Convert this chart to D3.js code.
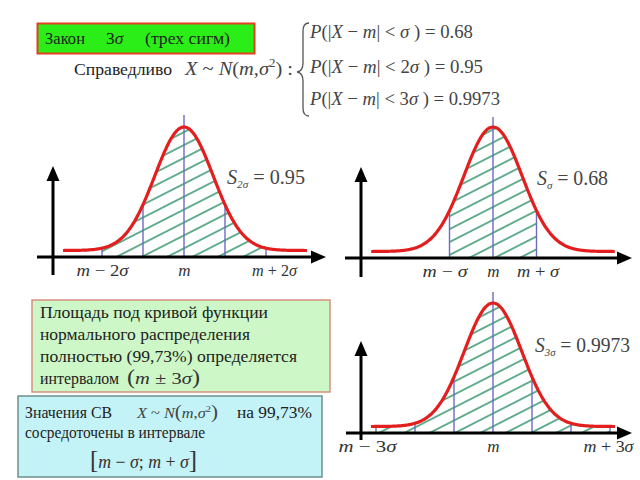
<!DOCTYPE html>
<html><head><meta charset="utf-8">
<script src="https://cdn.jsdelivr.net/npm/d3@7"></script>
<style>
body{margin:0;background:#fff}
svg, svg text{font-family:"Liberation Serif","DejaVu Serif","Noto Serif",serif}
</style></head><body>
<svg id="c" width="640" height="480"></svg>
<script>
// ---- data ----
const sigmaMultiples = [2, 1, 3];
const probLabels = ["0.95", "0.68", "0.9973"];
const subLabels = ["2σ", "σ", "3σ"];
const tickLabels = [["m − 2σ", "m", "m + 2σ"], ["m − σ", "m", "m + σ"], ["m − 3σ", "m", "m + 3σ"]];
const ruleMultiples = ["", "2", "3"];
const ruleProbs = ["0.68", "0.95", "0.9973"];
const curveSpread = [0.71, 0.67, 0.74];   // sd of drawn curve, in σ units

// ---- layout ----
const FONT = '"Liberation Serif","DejaVu Serif","Noto Serif",serif';
const panels = [
  {cx:184, sig:41,   axisY:257, yAxisX:53,  yTop:166, yBot:275, xL:37,  xR:326, cL:-2.95, cR:3.0,  peakY:127, centerTop:115, sx:227, sy:184, sw:78,  lblShift:[0,0,8],   lblW:[52,0,45]},
  {cx:493, sig:43.5, axisY:258, yAxisX:361, yTop:167, yBot:277, xL:345, xR:632, cL:-2.8,  cR:2.8,  peakY:127, centerTop:117, sx:537, sy:185, sw:71,  lblShift:[-5,0,1],  lblW:[45,0,42]},
  {cx:493, sig:39,   axisY:433, yAxisX:361, yTop:341, yBot:440, xL:346, xR:632, cL:-3.13, cR:3.13, peakY:303, centerTop:292, sx:535, sy:352, sw:95,  lblShift:[-9,0,-2], lblW:[58,0,50]}
];

const svg = d3.select("#c").attr("font-family", FONT);
const defs = svg.append("defs");
const pat = defs.append("pattern").attr("id","hatch").attr("patternUnits","userSpaceOnUse")
  .attr("width",24).attr("height",11.5).attr("patternTransform","rotate(-27)");
pat.append("line").attr("x1",0).attr("x2",24).attr("y1",5.75).attr("y2",5.75)
  .attr("stroke","#3f9b74").attr("stroke-width",1.6);

function fit(sel, w) { return sel.attr("textLength", w).attr("lengthAdjust", "spacingAndGlyphs"); }

function rich(sel, str) {
  sel.text(null);
  const tokens = str.match(/[A-Za-zσ]+|[^A-Za-zσ]+/g);
  tokens.forEach(t => {
    const isIt = /[A-Za-zσ]/.test(t);
    sel.append("tspan").attr("font-style", isIt ? "italic" : "normal").text(t);
  });
}

panels.forEach((P, p) => {
  const k = sigmaMultiples[p];
  const s = curveSpread[p];
  const g = svg.append("g");
  const x = d3.scaleLinear().domain([-1, 1]).range([P.cx - P.sig, P.cx + P.sig]);
  const y = d3.scaleLinear().domain([0, 1]).range([P.axisY - 6.5, P.peakY]);
  const f = t => Math.exp(-0.5 * (t / s) * (t / s));
  const n = 300;
  const pts = d3.range(n + 1).map(i => P.cL + (P.cR - P.cL) * i / n);
  const inner = d3.range(n + 1).map(i => -k + 2 * k * i / n);

  g.append("path").datum(inner)
    .attr("d", d3.area().x(d => x(d)).y0(P.axisY).y1(d => y(f(d))))
    .attr("fill", "url(#hatch)");

  d3.range(-k, k + 1).forEach(t => {
    g.append("line").attr("x1", x(t)).attr("x2", x(t))
      .attr("y1", P.axisY).attr("y2", t === 0 ? P.centerTop : y(f(t)))
      .attr("stroke", "#6c6cc0").attr("stroke-width", 1.4);
  });

  g.append("line").attr("x1", P.yAxisX).attr("x2", P.yAxisX).attr("y1", P.yBot).attr("y2", P.yTop + 12)
    .attr("stroke", "#000").attr("stroke-width", 3);
  g.append("path").attr("d", `M${P.yAxisX},${P.yTop} L${P.yAxisX - 6.5},${P.yTop + 15} L${P.yAxisX + 6.5},${P.yTop + 15} Z`).attr("fill", "#000");
  g.append("line").attr("x1", P.xL).attr("x2", P.xR - 12).attr("y1", P.axisY).attr("y2", P.axisY)
    .attr("stroke", "#000").attr("stroke-width", 3);
  g.append("path").attr("d", `M${P.xR},${P.axisY} L${P.xR - 15},${P.axisY - 6.5} L${P.xR - 15},${P.axisY + 6.5} Z`).attr("fill", "#000");

  g.append("path").datum(pts)
    .attr("d", d3.line().x(d => x(d)).y(d => y(f(d))).curve(d3.curveBasis))
    .attr("fill", "none").attr("stroke", "#e31e1e").attr("stroke-width", 3.2);

  const ax = d3.axisBottom(x).tickValues([-k, 0, k]).tickSize(0).tickPadding(7)
    .tickFormat((d, i) => tickLabels[p][i]);
  const ag = g.append("g").attr("transform", `translate(0,${P.axisY})`).call(ax).attr("font-family", FONT);
  ag.select(".domain").remove();
  ag.selectAll("text").attr("font-family", FONT).attr("font-size", 17)
    .attr("fill", "#333").attr("dx", (d, i) => P.lblShift[i])
    .each(function(d, i) {
      const t = d3.select(this);
      rich(t, tickLabels[p][i]);
      if (P.lblW[i]) fit(t, P.lblW[i]);
    });

  const st = g.append("text").attr("x", P.sx).attr("y", P.sy).attr("font-size", 20).attr("fill", "#444");
  st.append("tspan").attr("font-style", "italic").text("S");
  st.append("tspan").attr("font-size", 11).attr("dy", 4).attr("font-style", "italic").text(subLabels[p]);
  st.append("tspan").attr("dy", -4).text(" = " + probLabels[p]);
  fit(st, P.sw);
});

// ---- top title box ----
svg.append("rect").attr("x", 37.5).attr("y", 23.5).attr("width", 217).attr("height", 30)
  .attr("fill", "#2bee18").attr("stroke", "#e2401e").attr("stroke-width", 2);
fit(svg.append("text").attr("x", 45).attr("y", 44).attr("font-size", 17.5).attr("fill", "#222").text("Закон"), 40);
const t3 = svg.append("text").attr("x", 106).attr("y", 44).attr("font-size", 17.5).attr("fill", "#222");
t3.append("tspan").text("3");
t3.append("tspan").attr("font-style", "italic").text("σ");
fit(svg.append("text").attr("x", 145).attr("y", 44).attr("font-size", 17.5).attr("fill", "#222").text("(трех сигм)"), 85);

fit(svg.append("text").attr("x", 74).attr("y", 75).attr("font-size", 17.5).attr("fill", "#222").text("Справедливо"), 98);
const nx = svg.append("text").attr("x", 185).attr("y", 75).attr("font-size", 19).attr("fill", "#444");
nx.append("tspan").attr("font-style", "italic").text("X");
nx.append("tspan").text(" ~ ");
nx.append("tspan").attr("font-style", "italic").text("N");
nx.append("tspan").text("(");
nx.append("tspan").attr("font-style", "italic").text("m");
nx.append("tspan").text(",");
nx.append("tspan").attr("font-style", "italic").text("σ");
nx.append("tspan").attr("font-size", 12).attr("dy", -8).text("2");
nx.append("tspan").attr("dy", 8).text(") :");
fit(nx, 108);

svg.append("path").attr("d", "M309,23 Q303,23 303,31 L303,63 Q303,71 297,72 Q303,73 303,81 L303,108 Q303,116 309,116")
  .attr("fill", "none").attr("stroke", "#555").attr("stroke-width", 1.3);

const ruleY = [38, 73, 105];
const ruleW = [163, 173, 190];
ruleY.forEach((yy, i) => {
  const t = svg.append("text").attr("x", 310).attr("y", yy).attr("font-size", 19.5).attr("fill", "#444");
  t.append("tspan").attr("font-style", "italic").text("P");
  t.append("tspan").text("(|");
  t.append("tspan").attr("font-style", "italic").text("X");
  t.append("tspan").text(" − ");
  t.append("tspan").attr("font-style", "italic").text("m");
  t.append("tspan").text("| < " + ruleMultiples[i]);
  t.append("tspan").attr("font-style", "italic").text("σ");
  t.append("tspan").text(" ) = " + ruleProbs[i]);
  fit(t, ruleW[i]);
});

// ---- box 1 ----
svg.append("rect").attr("x", 32).attr("y", 300).attr("width", 298).attr("height", 92)
  .attr("fill", "#cdf7c6").attr("stroke", "#d8907f").attr("stroke-width", 1.5);
const b1 = ["Площадь под кривой функции", "нормального распределения", "полностью (99,73%) определяется", "интервалом"];
const b1y = [318, 340, 361.5, 383.5];
const b1w = [228, 210, 257, 79];
b1.forEach((s, i) => fit(svg.append("text").attr("x", 40).attr("y", b1y[i]).attr("font-size", 17).attr("fill", "#222").text(s), b1w[i]));
const pm = svg.append("text").attr("x", 127).attr("y", 383.5).attr("font-size", 17).attr("fill", "#333");
pm.append("tspan").attr("font-size", 20).text("(");
pm.append("tspan").attr("font-style", "italic").text("m");
pm.append("tspan").text(" ± 3");
pm.append("tspan").attr("font-style", "italic").text("σ");
pm.append("tspan").attr("font-size", 20).text(")");
fit(pm, 73);

// ---- box 2 ----
svg.append("rect").attr("x", 18).attr("y", 396).attr("width", 304).attr("height", 81)
  .attr("fill", "#c3f2f7").attr("stroke", "#6e8f8f").attr("stroke-width", 1.5);
fit(svg.append("text").attr("x", 25).attr("y", 418).attr("font-size", 17.5).attr("fill", "#222").text("Значения СВ"), 87);
const xn = svg.append("text").attr("x", 137).attr("y", 418).attr("font-size", 14).attr("fill", "#444");
xn.append("tspan").attr("font-style", "italic").text("X");
xn.append("tspan").text(" ~ ");
xn.append("tspan").attr("font-style", "italic").text("N");
xn.append("tspan").attr("font-size", 18).text("(");
xn.append("tspan").attr("font-style", "italic").text("m");
xn.append("tspan").text(",");
xn.append("tspan").attr("font-style", "italic").text("σ");
xn.append("tspan").attr("font-size", 9).attr("dy", -6).text("2");
xn.append("tspan").attr("dy", 6).attr("font-size", 18).text(")");
fit(xn, 81);
fit(svg.append("text").attr("x", 237).attr("y", 418).attr("font-size", 17.5).attr("fill", "#222").text("на 99,73%"), 75);
fit(svg.append("text").attr("x", 25).attr("y", 438).attr("font-size", 17.5).attr("fill", "#222").text("сосредоточены в интервале"), 180);
const iv = svg.append("text").attr("x", 90).attr("y", 468).attr("font-size", 18).attr("fill", "#333");
iv.append("tspan").attr("font-size", 25).text("[");
iv.append("tspan").attr("font-style", "italic").text("m");
iv.append("tspan").text(" − ");
iv.append("tspan").attr("font-style", "italic").text("σ");
iv.append("tspan").text("; ");
iv.append("tspan").attr("font-style", "italic").text("m");
iv.append("tspan").text(" + ");
iv.append("tspan").attr("font-style", "italic").text("σ");
iv.append("tspan").attr("font-size", 25).text("]");
fit(iv, 107);
</script>
</body></html>
